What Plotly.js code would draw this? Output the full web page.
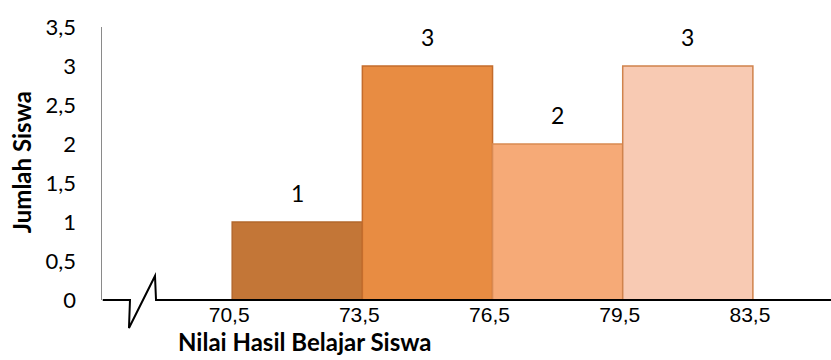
<!DOCTYPE html>
<html>
<head>
<meta charset="utf-8">
<script src="https://cdn.plot.ly/plotly-3.0.1.min.js"></script>
<style>
  html, body { margin: 0; padding: 0; background: #fff; }
  #chart { width: 831px; height: 360px; }
</style>
</head>
<body>
<div id="chart"></div>
<script>
// Class intervals (boundaries) and number of students per class
const boundaryLabels = ["70,5", "73,5", "76,5", "79,5", "83,5"];
const classLabels = ["70,5–73,5", "73,5–76,5", "76,5–79,5", "79,5–83,5"];
const studentCounts = [1, 3, 2, 3];

const barColors = ["#C37637", "#E88C42", "#F6AA77", "#F8CAB3"];
const barEdges = ["#B3682D", "#C46C2C", "#D98A52", "#D0834C"];

// Each class occupies one unit on the x axis, boundaries at integer positions
const centers = studentCounts.map((_, i) => i + 0.5);
const boundaryPos = boundaryLabels.map((_, i) => i);

const trace = {
  type: "bar",
  x: centers,
  y: studentCounts,
  width: studentCounts.map(() => 1),
  customdata: classLabels,
  marker: {
    color: barColors,
    line: { color: barEdges, width: 1.5 }
  },
  hovertemplate: "%{customdata}: %{y}<extra></extra>"
};

const bodyFont = "Lato, 'Open Sans', sans-serif";

// Value labels above each bar
const valueLabels = studentCounts.map((v, i) => ({
  x: centers[i], y: v, xref: "x", yref: "y",
  text: String(v), showarrow: false,
  yanchor: "bottom", yshift: 13,
  font: { family: bodyFont, size: 23, color: "#000" }
}));

const layout = {
  width: 831, height: 360,
  margin: { l: 102, r: 0, t: 27, b: 60, pad: 0 },
  paper_bgcolor: "#fff", plot_bgcolor: "#fff",
  separators: ",.",
  showlegend: false,
  bargap: 0,
  xaxis: {
    range: [-1, 4.6],
    tickmode: "array",
    tickvals: boundaryPos,
    ticktext: boundaryLabels,
    ticks: "",
    ticklabelshift: -3,
    showline: false, showgrid: false, zeroline: false,
    tickfont: { family: "'Liberation Sans', Arial, sans-serif", size: 21, color: "#000" },
    fixedrange: true
  },
  yaxis: {
    range: [0, 3.5],
    dtick: 0.5,
    tick0: 0,
    ticks: "",
    ticklabelstandoff: 20,
    showline: true, linecolor: "#8a8a8a", linewidth: 1.5,
    showgrid: false, zeroline: false,
    tickfont: { family: bodyFont, size: 22, color: "#000" },
    fixedrange: true
  },
  annotations: valueLabels.concat([
    {
      xref: "paper", yref: "paper", x: 0.2785, y: -0.152,
      xanchor: "center", yanchor: "middle", showarrow: false,
      text: "<b>Nilai Hasil Belajar Siswa</b>",
      font: { family: bodyFont, size: 24, color: "#000" }
    },
    {
      xref: "paper", yref: "paper", x: -0.111, y: 0.505,
      xanchor: "center", yanchor: "middle", showarrow: false, textangle: -90,
      text: "<b>Jumlah Siswa</b>",
      font: { family: bodyFont, size: 24, color: "#000" }
    }
  ]),
  shapes: [
    // x axis baseline with a break mark near the origin
    {
      type: "path", xref: "paper", yref: "paper",
      path: "M 0.001,0 L 0.0384,0 L 0.037,-0.1026 L 0.0727,0.0879 L 0.0741,0 L 1,0",
      line: { color: "#000", width: 2 },
      fillcolor: "rgba(0,0,0,0)",
      layer: "above"
    }
  ]
};

Plotly.newPlot("chart", [trace], layout, { displayModeBar: false, staticPlot: true });
</script>
</body>
</html>
